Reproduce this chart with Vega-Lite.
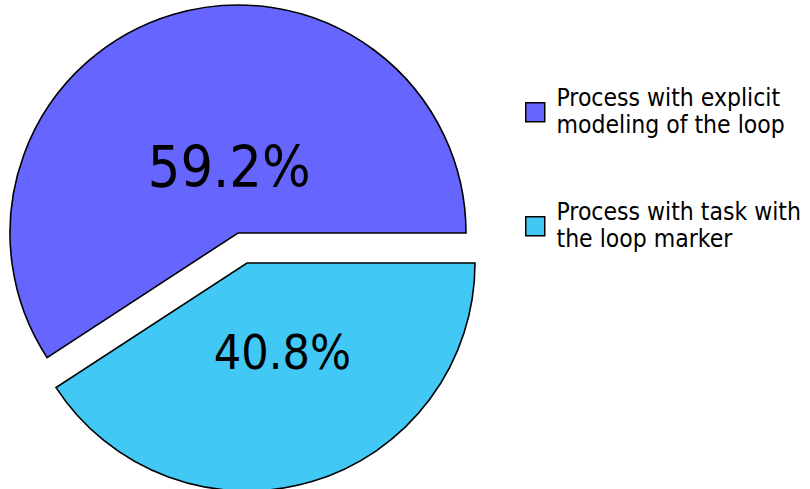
{
  "$schema": "https://vega.github.io/schema/vega-lite/v6.json",
  "width": 486,
  "height": 496,
  "padding": 0,
  "background": "white",
  "view": {"stroke": null},
  "data": {"values": [
    {"category": "Process with explicit|modeling of the loop", "value": 59.2, "pct": "59.2%", "ord": 2},
    {"category": "Process with task with|the loop marker", "value": 40.8, "pct": "40.8%", "ord": 1}
  ]},
  "encoding": {
    "theta": {"field": "value", "type": "quantitative", "stack": true, "scale": {"range": [1.5707963, 7.8539816]}},
    "order": {"field": "ord", "type": "quantitative"},
    "color": {
      "field": "category", "type": "nominal",
      "scale": {"domain": ["Process with explicit|modeling of the loop", "Process with task with|the loop marker"], "range": ["#6666ff", "#42c8f5"]},
      "legend": {
        "title": null, "orient": "none", "legendX": 523, "legendY": 100,
        "symbolType": "square", "symbolSize": 361, "symbolStrokeColor": "black", "symbolStrokeWidth": 1.5, "symbolOpacity": 1,
        "labelExpr": "split(datum.label, '|')", "labelFont": "DejaVu Sans Condensed", "labelFontSize": 24.5, "labelColor": "black",
        "labelOffset": 9, "rowPadding": 62, "labelLimit": 400, "padding": 0,
        "encode": {"labels": {"update": {"dy": {"value": -13}}}}
      }
    }
  },
  "layer": [
    {
      "mark": {"type": "arc", "radius": 228, "stroke": "black", "strokeWidth": 1.6, "xOffset": -5, "yOffset": -15},
      "encoding": {"opacity": {"condition": {"test": "datum.ord == 2", "value": 1}, "value": 0}}
    },
    {
      "mark": {"type": "arc", "radius": 228, "stroke": "black", "strokeWidth": 1.6, "xOffset": 4, "yOffset": 15},
      "encoding": {"opacity": {"condition": {"test": "datum.ord == 1", "value": 1}, "value": 0}}
    },
    {
      "mark": {"type": "text", "radius": 80, "dx": 9, "dy": -1, "font": "DejaVu Sans Condensed", "fontSize": 57, "baseline": "middle", "align": "center", "color": "black"},
      "encoding": {"text": {"condition": {"test": "datum.ord == 2", "field": "pct"}, "value": ""}, "color": {"value": "black"}}
    },
    {
      "mark": {"type": "text", "radius": 110, "dx": 8, "dy": 2, "font": "DejaVu Sans Condensed", "fontSize": 48, "baseline": "middle", "align": "center", "color": "black"},
      "encoding": {"text": {"condition": {"test": "datum.ord == 1", "field": "pct"}, "value": ""}, "color": {"value": "black"}}
    }
  ]
}
